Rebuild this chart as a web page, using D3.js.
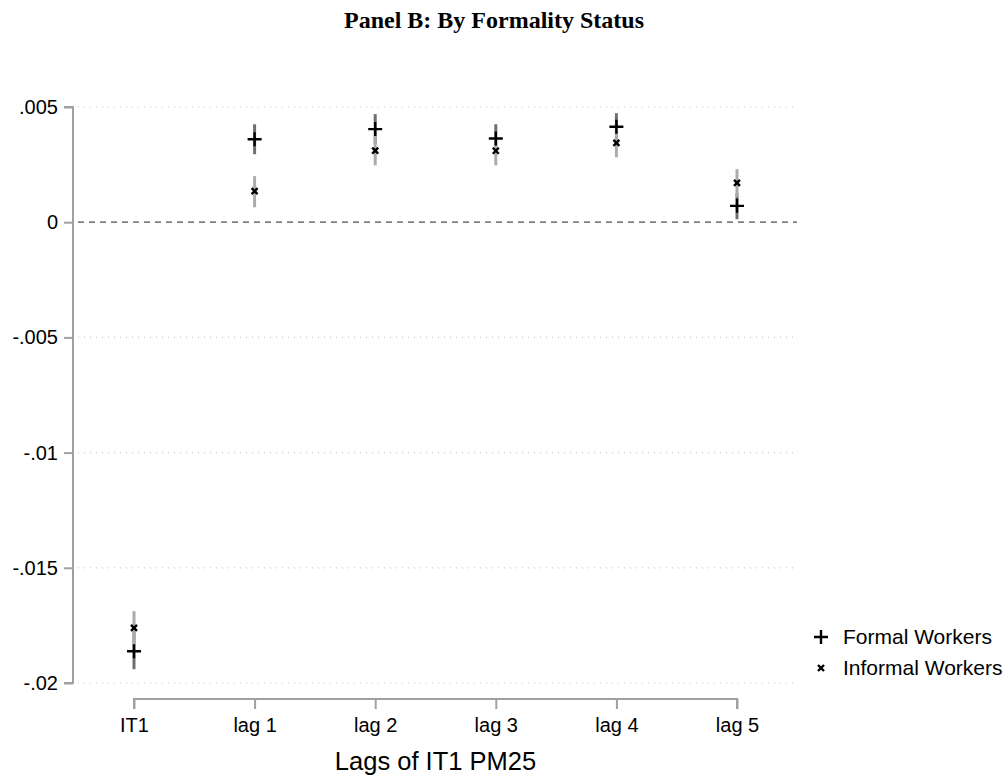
<!DOCTYPE html>
<html>
<head>
<meta charset="utf-8">
<script src="https://cdn.jsdelivr.net/npm/d3@7"></script>
<style>
  body { margin: 0; background: #fff; }
  svg { display: block; }
</style>
</head>
<body>
<div id="chart"></div>
<script>
// chart data
const categories = ["IT1", "lag 1", "lag 2", "lag 3", "lag 4", "lag 5"];
const yTicks = [0.005, 0, -0.005, -0.01, -0.015, -0.02];
const yTickLabels = [".005", "0", "-.005", "-.01", "-.015", "-.02"];

const formalCoef  = [-0.01862, 0.00360, 0.00404, 0.00363, 0.00414, 0.00071];
const formalLo    = [-0.01940, 0.00295, 0.00339, 0.00304, 0.00356, 0.00013];
const formalHi    = [-0.01775, 0.00425, 0.00469, 0.00425, 0.00473, 0.00126];

const informalCoef = [-0.01761, 0.00135, 0.00311, 0.00310, 0.00344, 0.00171];
const informalLo   = [-0.01836, 0.00065, 0.00247, 0.00247, 0.00282, 0.00109];
const informalHi   = [-0.01688, 0.00200, 0.00378, 0.00373, 0.00408, 0.00230];

const width = 1008, height = 778;
const sans = "'Liberation Sans', Arial, sans-serif";

const svg = d3.select("#chart").append("svg")
  .attr("width", width)
  .attr("height", height);

// plot region
const x = d3.scalePoint().domain(categories).range([134, 737]);
const y = d3.scaleLinear().domain([-0.02, 0.005]).range([683, 107]);
const gridLeft = 78, gridRight = 797;

// title
svg.append("text")
  .attr("x", 494).attr("y", 28)
  .attr("text-anchor", "middle")
  .style("font-family", "'Liberation Serif', serif")
  .style("font-weight", "bold")
  .style("font-size", "24px")
  .text("Panel B: By Formality Status");

// dotted grid lines
svg.append("g").selectAll("line")
  .data(yTicks.filter(d => d !== 0))
  .enter().append("line")
  .attr("x1", gridLeft).attr("x2", gridRight)
  .attr("y1", d => y(d)).attr("y2", d => y(d))
  .style("stroke", "#c8c8c8")
  .style("stroke-width", 1.2)
  .style("stroke-dasharray", "1,5");

// zero reference line
svg.append("line")
  .attr("x1", gridLeft).attr("x2", gridRight)
  .attr("y1", y(0)).attr("y2", y(0))
  .style("stroke", "#808080")
  .style("stroke-width", 1.8)
  .style("stroke-dasharray", "6,5");

// y axis
const yAxis = d3.axisLeft(y)
  .tickValues(yTicks)
  .tickFormat((d, i) => yTickLabels[i])
  .tickSize(9)
  .tickPadding(6);

const gy = svg.append("g")
  .attr("transform", "translate(73,0)")
  .call(yAxis);
gy.select(".domain").style("stroke", "#a0a0a0").style("stroke-width", 2).attr("d", `M-9,${y(0.005)}H0V${y(-0.02)}H-9`);
gy.selectAll(".tick line").style("stroke", "#a0a0a0").style("stroke-width", 2);
gy.selectAll(".tick text")
  .style("font-family", sans)
  .style("font-size", "20px")
  .style("fill", "#000");

// x axis
const xAxis = d3.axisBottom(x).tickSize(10).tickPadding(9);
const gx = svg.append("g")
  .attr("transform", "translate(0,699)")
  .call(xAxis);
gx.select(".domain").style("stroke", "#a0a0a0").style("stroke-width", 2).attr("d", `M${x("IT1")},10V0H${x("lag 5")}V10`);
gx.selectAll(".tick line").style("stroke", "#a0a0a0").style("stroke-width", 2);
gx.selectAll(".tick text")
  .style("font-family", sans)
  .style("font-size", "20px")
  .style("fill", "#000");

// x axis title
svg.append("text")
  .attr("x", x("IT1") + (x("lag 5") - x("IT1")) / 2)
  .attr("y", 770)
  .attr("text-anchor", "middle")
  .style("font-family", sans)
  .style("font-size", "25.5px")
  .text("Lags of IT1 PM25");

// confidence intervals
const ci = svg.append("g");
ci.selectAll("line.formal")
  .data(categories)
  .enter().append("line")
  .attr("class", "formal")
  .attr("x1", d => x(d)).attr("x2", d => x(d))
  .attr("y1", (d, i) => y(formalLo[i]))
  .attr("y2", (d, i) => y(formalHi[i]))
  .style("stroke", "#6e6e6e")
  .style("stroke-width", 3);

ci.selectAll("line.informal")
  .data(categories)
  .enter().append("line")
  .attr("class", "informal")
  .attr("x1", d => x(d)).attr("x2", d => x(d))
  .attr("y1", (d, i) => y(informalLo[i]))
  .attr("y2", (d, i) => y(informalHi[i]))
  .style("stroke", "#ababab")
  .style("stroke-width", 3);

// markers
const plusPath = "M-7,0H7M0,-7V7";
const crossPath = "M-3,-3L3,3M-3,3L3,-3";

svg.append("g").selectAll("path")
  .data(categories)
  .enter().append("path")
  .attr("transform", (d, i) => `translate(${x(d)},${y(formalCoef[i])})`)
  .attr("d", plusPath)
  .style("stroke", "#000")
  .style("stroke-width", 2.4)
  .style("fill", "none");

svg.append("g").selectAll("path")
  .data(categories)
  .enter().append("path")
  .attr("transform", (d, i) => `translate(${x(d)},${y(informalCoef[i])})`)
  .attr("d", crossPath)
  .style("stroke", "#000")
  .style("stroke-width", 2.4)
  .style("fill", "none");

// legend
const legend = svg.append("g").attr("transform", "translate(821,0)");
legend.append("path")
  .attr("transform", "translate(0,637)")
  .attr("d", plusPath)
  .style("stroke", "#000").style("stroke-width", 2.4).style("fill", "none");
legend.append("path")
  .attr("transform", "translate(0,668)")
  .attr("d", crossPath)
  .style("stroke", "#000").style("stroke-width", 2.4).style("fill", "none");
legend.selectAll("text")
  .data(["Formal Workers", "Informal Workers"])
  .enter().append("text")
  .attr("x", 22)
  .attr("y", (d, i) => 637 + i * 31)
  .attr("dy", "0.35em")
  .style("font-family", sans)
  .style("font-size", "21px")
  .text(d => d);
</script>
</body>
</html>
